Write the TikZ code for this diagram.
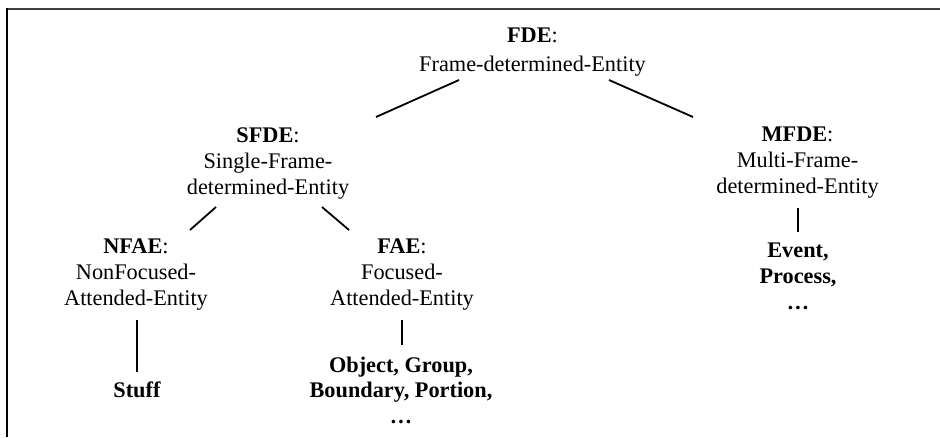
\documentclass[tikz,border=0pt]{standalone}
\usepackage{fontspec}
\setmainfont{Liberation Serif}
\usetikzlibrary{calc}
\tikzset{
  lbl/.style={anchor=base, inner sep=0pt, align=center, font=\fontsize{22.3}{26}\selectfont},
  conn/.style={line width=1.8pt, black},
}
\begin{document}
\begin{tikzpicture}[x=1pt,y=-1pt]
\useasboundingbox (0,0) rectangle (940,437);
\draw[line width=2pt, black!75] (6,9) -- (940,9);
\draw[line width=1.6pt, black] (7,8) -- (7,437);

% anchor=base is the baseline of the last line
\node[lbl] (fde) at (532.5,71) {\textbf{FDE}:\\[3pt]Frame-determined-Entity};
\node[lbl] (sfde) at (268,194) {\textbf{SFDE}:\\Single-Frame-\\determined-Entity};
\node[lbl] (mfde) at (797.5,193) {\textbf{MFDE}:\\Multi-Frame-\\determined-Entity};
\node[lbl] (nfae) at (136,305) {\textbf{NFAE}:\\NonFocused-\\Attended-Entity};
\node[lbl] (fae) at (402,305) {\textbf{FAE}:\\Focused-\\Attended-Entity};
\node[lbl] (stuff) at (137,397) {\textbf{Stuff}};
\node[lbl,font=\fontsize{22.3}{25.3}\selectfont] (obj) at (401,423) {\textbf{Object, Group,}\\\textbf{Boundary, Portion,}\\\textbf{\dots}};
\node[lbl,font=\fontsize{22.3}{25.8}\selectfont] (event) at (798,309) {\textbf{Event,}\\\textbf{Process,}\\\textbf{\dots}};

\draw[conn] ($(fde.base)+(-73.5,9)$) -- ($(sfde.base)+(108,-77)$);
\draw[conn] ($(fde.base)+(76.5,9)$) -- ($(mfde.base)+(-104.5,-76)$);
\draw[conn] ($(sfde.base)+(-52,13)$) -- ($(nfae.base)+(54,-75)$);
\draw[conn] ($(sfde.base)+(54,13)$) -- ($(fae.base)+(-53,-75)$);
\draw[conn] ($(mfde.base)+(0.5,15)$) -- ($(event.base)+(0,-77)$);
\draw[conn] ($(nfae.base)+(1,15)$) -- ($(stuff.base)+(0,-25)$);
\draw[conn] ($(fae.base)+(0,15)$) -- ($(obj.base)+(1,-78)$);
\end{tikzpicture}
\end{document}
